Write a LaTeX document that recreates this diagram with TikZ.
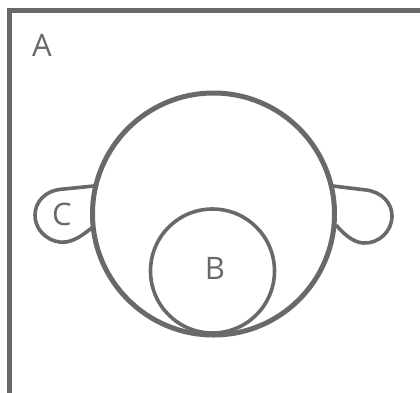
\documentclass[tikz,border=0pt]{standalone}
\usepackage{fontspec}
\setmainfont{Open Sans}
\usetikzlibrary{positioning}

\definecolor{linegray}{HTML}{696969}

\begin{document}
\begin{tikzpicture}[
    x=1pt, y=-1pt,
    outline/.style={draw=linegray, line width=5pt},
    thinline/.style={draw=linegray, line width=3.6pt, line join=round},
    letter/.style={text=linegray, inner sep=0pt,
                   font=\fontsize{31}{31}\selectfont}
  ]
    \useasboundingbox (0,0) rectangle (420,392);
    \clip (0,0) rectangle (420,392);
    \fill[white] (0,0) rectangle (420,392);

    % frame and head
    \draw[outline] (9,10.5) rectangle (440,420);
    \coordinate (head) at (213.5,214);
    \draw[outline] (head) circle[radius=121];
    \coordinate (mouth) at (212.5,271);
    \draw[thinline] (mouth) circle[radius=62];

    % ears
    \coordinate (earL) at (94,186);
    \coordinate (earR) at (333,186);
    \draw[thinline] (earL) -- (64,189) .. controls (44,190) and (35,203) .. (35,215)
      .. controls (35,232) and (51,244) .. (66,242)
      .. controls (78,240) and (86,232) .. (93,227);
    \draw[thinline] (earR) -- (366,190) .. controls (382,192) and (392,203) .. (392,216)
      .. controls (392,232) and (378,244) .. (363,243)
      .. controls (352,242) and (343,233) .. (336,225);

    \node[letter] (labA) at (42,45) {A};
    \node[letter] (labC) at (62,214) {C};
    \node[letter] (labB) at (215,268) {B};
  \end{tikzpicture}
\end{document}
